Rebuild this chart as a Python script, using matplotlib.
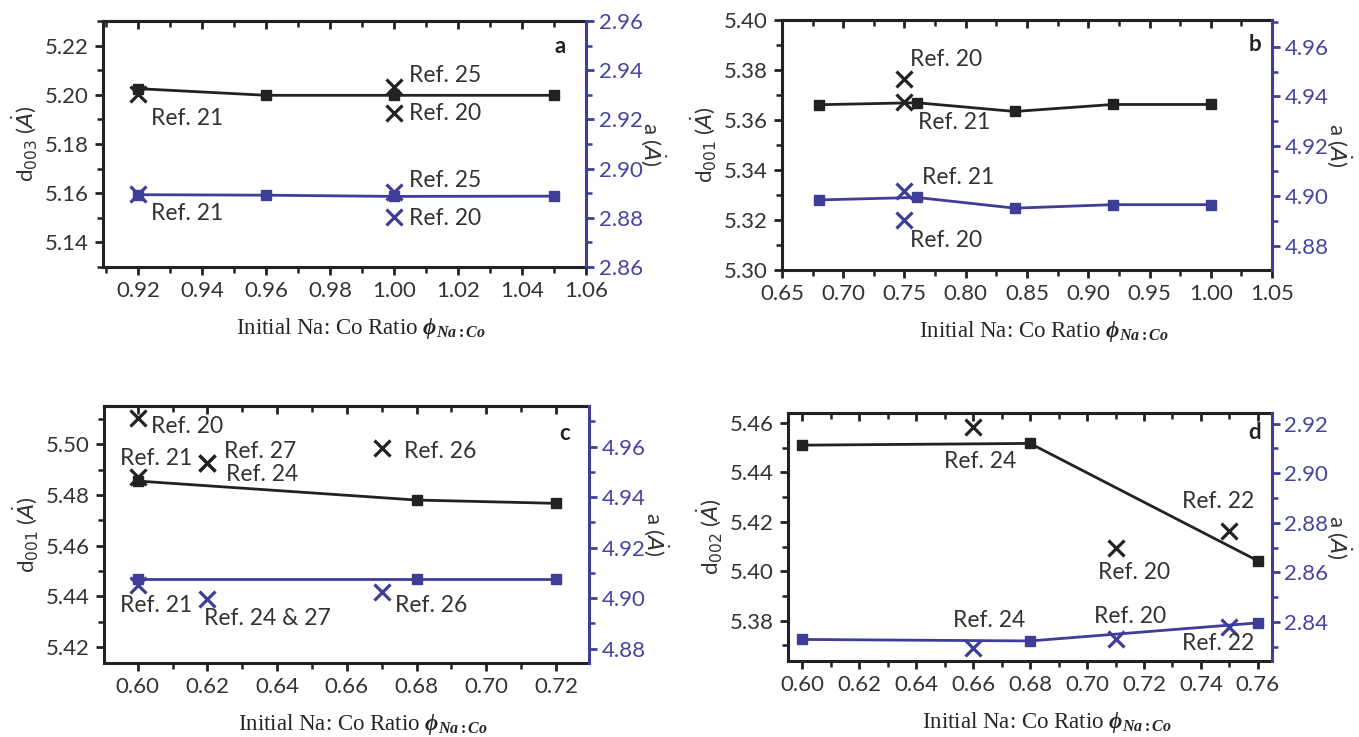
import matplotlib
matplotlib.use('Agg')
import matplotlib.pyplot as plt
from matplotlib.ticker import MultipleLocator, FormatStrFormatter

plt.rcParams['font.family'] = ['Lato', 'DejaVu Sans']
plt.rcParams['mathtext.fontset'] = 'custom'
plt.rcParams['mathtext.rm'] = 'Liberation Serif:bold'
plt.rcParams['mathtext.it'] = 'Liberation Serif:italic:bold'
plt.rcParams['mathtext.bf'] = 'Liberation Serif:bold'

# ---------------- data ----------------
# panel a
a_x = [0.92, 0.96, 1.00, 1.05]
a_d = [5.2025, 5.1998, 5.1998, 5.1998]
a_lat = [2.8894, 2.8892, 2.8887, 2.8888]
a_ref_x = [0.92, 1.00, 1.00]
a_ref_d = [5.2005, 5.2030, 5.1925]
a_ref_lat = [2.8895, 2.8906, 2.8805]

# panel b
b_x = [0.68, 0.76, 0.84, 0.92, 1.00]
b_d = [5.3661, 5.3669, 5.3634, 5.3662, 5.3662]
b_lat = [4.8985, 4.8995, 4.8952, 4.8966, 4.8966]
b_ref_x = [0.75, 0.75]
b_ref_d = [5.3765, 5.3671]
b_ref_lat = [4.9022, 4.8904]

# panel c
c_x = [0.60, 0.68, 0.72]
c_d = [5.4855, 5.4780, 5.4767]
c_lat = [4.9075, 4.9075, 4.9075]
c_ref_d_x = [0.60, 0.60, 0.62, 0.62, 0.67]
c_ref_d = [5.5103, 5.4872, 5.4925, 5.4925, 5.4984]
c_ref_lat_x = [0.60, 0.62, 0.67]
c_ref_lat = [4.9051, 4.8998, 4.9025]

# panel d
d_x = [0.60, 0.68, 0.76]
d_d = [5.4510, 5.4517, 5.4042]
d_lat = [2.8329, 2.8323, 2.8396]
d_ref_x = [0.66, 0.71, 0.75]
d_ref_d = [5.4584, 5.4093, 5.4164]
d_ref_lat = [2.8293, 2.8329, 2.8380]

# ---------------- style ----------------
BLACK = '#222222'
BLUE = '#3e3e98'
TXT = '#333333'
BLUE_TXT = '#45459f'
FS = 16
REF_FS = 16.5

fig = plt.figure(figsize=(13.59, 7.37), dpi=100)

panels = [
    dict(rect=[0.0758, 0.6377, 0.3554, 0.3338], x=a_x, d=a_d, lat=a_lat,
         rdx=a_ref_x, rd=a_ref_d, rlx=a_ref_x, rl=a_ref_lat,
         xlim=(0.909, 1.06), ylim=(5.13, 5.23), y2lim=(2.86, 2.96),
         xmaj=0.02, xmin=0.01, sub='003', letter='a', letter_pos=(1.052, 5.2195),
         lab_d=[(0.924, 5.1905, 'Ref. 21'), (1.0047, 5.2079, 'Ref. 25'), (1.0047, 5.1925, 'Ref. 20')],
         lab_l=[(0.924, 2.8816, 'Ref. 21'), (1.0047, 2.8951, 'Ref. 25'), (1.0047, 2.8796, 'Ref. 20')]),
    dict(rect=[0.5754, 0.6337, 0.3606, 0.3392], x=b_x, d=b_d, lat=b_lat,
         rdx=b_ref_x, rd=b_ref_d, rlx=b_ref_x, rl=b_ref_lat,
         xlim=(0.65, 1.05), ylim=(5.30, 5.40), y2lim=(4.8704, 4.9707),
         xmaj=0.05, xmin=0.025, sub='001', letter='b', letter_pos=(1.036, 5.39),
         lab_d=[(0.7545, 5.384, 'Ref. 20'), (0.761, 5.359, 'Ref. 21')],
         lab_l=[(0.7639, 4.9073, 'Ref. 21'), (0.7545, 4.8824, 'Ref. 20')]),
    dict(rect=[0.0765, 0.1004, 0.3569, 0.3487], x=c_x, d=c_d, lat=c_lat,
         rdx=c_ref_d_x, rd=c_ref_d, rlx=c_ref_lat_x, rl=c_ref_lat,
         xlim=(0.5903, 0.7295), ylim=(5.4137, 5.5151), y2lim=(4.8743, 4.9761),
         xmaj=0.02, xmin=0.01, sub='001', letter='c', letter_pos=(0.7225, 5.5043),
         lab_d=[(0.6038, 5.507, 'Ref. 20'), (0.5948, 5.4945, 'Ref. 21'), (0.6248, 5.4971, 'Ref. 27'),
                (0.6253, 5.4879, 'Ref. 24'), (0.6764, 5.4971, 'Ref. 26')],
         lab_l=[(0.5948, 4.8972, 'Ref. 21'), (0.6191, 4.8919, 'Ref. 24 & 27'), (0.6739, 4.8972, 'Ref. 26')]),
    dict(rect=[0.5798, 0.1031, 0.3561, 0.3365], x=d_x, d=d_d, lat=d_lat,
         rdx=d_ref_x, rd=d_ref_d, rlx=d_ref_x, rl=d_ref_lat,
         xlim=(0.595, 0.7649), ylim=(5.3637, 5.464), y2lim=(2.8242, 2.9243),
         xmaj=0.02, xmin=0.01, sub='002', letter='d', letter_pos=(0.7589, 5.456),
         lab_d=[(0.6499, 5.4442, 'Ref. 24'), (0.7334, 5.4281, 'Ref. 22'), (0.704, 5.3994, 'Ref. 20')],
         lab_l=[(0.6529, 2.8407, 'Ref. 24'), (0.7024, 2.842, 'Ref. 20'), (0.7334, 2.8313, 'Ref. 22')]),
]

for p in panels:
    ax = fig.add_axes(p['rect'])
    ax2 = ax.twinx()

    ax.plot(p['x'], p['d'], '-', color=BLACK, lw=2, marker='s', ms=7, zorder=3)
    ax.plot(p['rdx'], p['rd'], 'x', color=BLACK, ms=11, mew=2.3, ls='none', zorder=4)
    ax2.plot(p['x'], p['lat'], '-', color=BLUE, lw=2, marker='s', ms=7, zorder=3)
    ax2.plot(p['rlx'], p['rl'], 'x', color=BLUE, ms=11, mew=2.3, ls='none', zorder=4)

    ax.set_xlim(*p['xlim'])
    ax.set_ylim(*p['ylim'])
    ax2.set_ylim(*p['y2lim'])

    ax.xaxis.set_major_locator(MultipleLocator(p['xmaj']))
    ax.xaxis.set_minor_locator(MultipleLocator(p['xmin']))
    ax.yaxis.set_major_locator(MultipleLocator(0.02))
    ax.yaxis.set_minor_locator(MultipleLocator(0.01))
    ax2.yaxis.set_major_locator(MultipleLocator(0.02))
    ax2.yaxis.set_minor_locator(MultipleLocator(0.01))
    ax.xaxis.set_major_formatter(FormatStrFormatter('%.2f'))
    ax.yaxis.set_major_formatter(FormatStrFormatter('%.2f'))
    ax2.yaxis.set_major_formatter(FormatStrFormatter('%.2f'))

    for s in ['left', 'bottom', 'top']:
        ax.spines[s].set_linewidth(2.2)
        ax.spines[s].set_color(BLACK)
    ax.spines['right'].set_visible(False)
    for s in ['left', 'bottom', 'top']:
        ax2.spines[s].set_visible(False)
    ax2.spines['right'].set_color(BLUE)
    ax2.spines['right'].set_linewidth(2.2)

    ax.tick_params(which='major', direction='out', length=6, width=2, color=BLACK,
                   labelsize=FS, labelcolor=TXT, pad=4)
    ax.tick_params(which='minor', direction='out', length=4, width=1.8, color=BLACK)
    ax2.tick_params(which='major', direction='out', length=6, width=2, color=BLUE,
                    labelsize=FS, labelcolor=BLUE_TXT, pad=3)
    ax2.tick_params(which='minor', direction='out', length=4, width=1.8, color=BLUE)

    top = ax.secondary_xaxis('top')
    top.xaxis.set_major_locator(MultipleLocator(p['xmaj']))
    top.xaxis.set_minor_locator(MultipleLocator(p['xmin']))
    top.tick_params(which='major', direction='in', length=6, width=2, color=BLACK, labeltop=False)
    top.tick_params(which='minor', direction='in', length=4, width=1.8, color=BLACK)
    top.spines['top'].set_linewidth(2.2)
    top.spines['top'].set_color(BLACK)

    ax.set_xlabel(r'Initial Na: Co Ratio $\phi_{Na:Co}$', family='Liberation Serif',
                  fontsize=16.5, color='#262626', labelpad=11, math_fontfamily='custom')
    ax.xaxis.label.set_x(0.535)
    ax.set_ylabel('d$_{' + p['sub'] + r'}$ ($\it{\dot{A}}$)', fontsize=FS, color=TXT,
                  labelpad=4, math_fontfamily='dejavusans')
    ax2.set_ylabel(r'a ($\it{\dot{A}}$)', fontsize=FS, color=TXT, rotation=270,
                   labelpad=18, math_fontfamily='dejavusans')

    for (tx, ty, t) in p['lab_d']:
        ax.text(tx, ty, t, fontsize=REF_FS, color=TXT, ha='left', va='center', zorder=5)
    for (tx, ty, t) in p['lab_l']:
        ax2.text(tx, ty, t, fontsize=REF_FS, color=TXT, ha='left', va='center', zorder=5)
    lx, ly = p['letter_pos']
    ax.text(lx, ly, p['letter'], fontsize=FS, fontweight='bold', color=BLACK,
            ha='center', va='center')

fig.savefig('out.png', dpi=100)
